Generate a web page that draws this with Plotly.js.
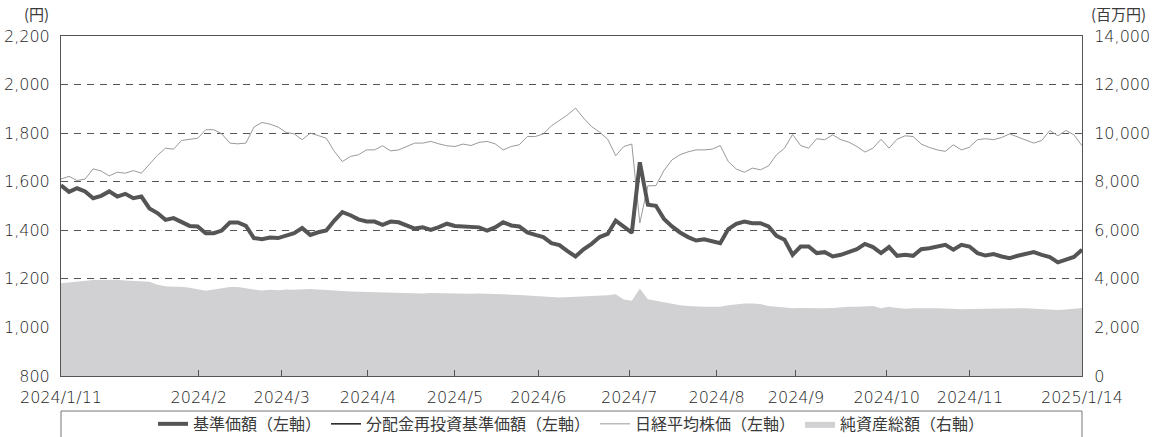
<!DOCTYPE html>
<html>
<head>
<meta charset="utf-8">
<script src="https://cdn.plot.ly/plotly-3.0.1.min.js"></script>
<style>
  html, body { margin: 0; padding: 0; background: #ffffff; }
  #chart { width: 1162px; height: 437px; }
  #chart text {
    text-spacing-trim: space-all !important;
    font-feature-settings: "chws" 0, "halt" 0, "palt" 0, "kern" 0 !important;
    font-kerning: none !important;
  }
</style>
</head>
<body>
<div id="chart"></div>
<script>
// ---- data (one point per sample step) ----
const tickPositions = [0, 17.13, 27.45, 38.18, 49.0, 59.37, 70.68, 81.55, 91.42, 102.7, 113.06, 127];
const tickLabels = ["2024/1/11", "2024/2", "2024/3", "2024/4", "2024/5", "2024/6",
                    "2024/7", "2024/8", "2024/9", "2024/10", "2024/11", "2025/1/14"];

// 基準価額 (円, left axis)
const nav = [
  1585, 1558, 1573, 1560, 1532, 1542, 1560, 1539, 1550, 1532,
  1539, 1490, 1471, 1443, 1450, 1436, 1418, 1416, 1388, 1388,
  1399, 1432, 1432, 1418, 1368, 1363, 1370, 1368, 1379, 1388,
  1409, 1381, 1392, 1399, 1440, 1475, 1462, 1445, 1436, 1436,
  1422, 1436, 1433, 1422, 1407, 1412, 1402, 1413, 1427, 1418,
  1416, 1416, 1412, 1399, 1412, 1433, 1420, 1416, 1391, 1381,
  1372, 1347, 1339, 1314, 1292, 1322, 1344, 1372, 1385, 1440,
  1413, 1390, 1680, 1505, 1501, 1447, 1416, 1391, 1372, 1358,
  1363, 1357, 1347, 1405, 1427, 1436, 1429, 1429, 1416, 1377,
  1361, 1299, 1333, 1333, 1306, 1310, 1292, 1299, 1310, 1322,
  1344, 1331, 1306, 1331, 1295, 1299, 1295, 1322, 1326, 1333,
  1340, 1320, 1340, 1333, 1306, 1296, 1302, 1292, 1285, 1295,
  1303, 1310, 1299, 1290, 1268, 1280, 1290, 1320
];

// 分配金再投資基準価額 (円, left axis) – coincides with 基準価額 (no distributions)
const reinvestNav = nav;

// 日経平均株価 (left axis, as plotted)
const nikkei = [
  1611, 1622, 1605, 1611, 1653, 1644, 1624, 1639, 1635, 1646,
  1635, 1670, 1709, 1738, 1734, 1770, 1773, 1779, 1814, 1814,
  1797, 1759, 1756, 1759, 1825, 1844, 1837, 1825, 1803, 1797,
  1773, 1800, 1790, 1779, 1725, 1683, 1704, 1711, 1731, 1731,
  1748, 1727, 1731, 1745, 1759, 1759, 1766, 1756, 1748, 1745,
  1755, 1749, 1762, 1766, 1756, 1731, 1745, 1752, 1786, 1786,
  1797, 1830, 1851, 1875, 1903, 1862, 1827, 1804, 1775, 1707,
  1745, 1755, 1430, 1583, 1584, 1646, 1690, 1711, 1723, 1731,
  1731, 1734, 1749, 1683, 1652, 1639, 1656, 1649, 1665, 1711,
  1738, 1795, 1749, 1738, 1777, 1773, 1793, 1773, 1763, 1745,
  1722, 1738, 1775, 1738, 1775, 1789, 1786, 1755, 1741, 1731,
  1725, 1752, 1731, 1742, 1773, 1777, 1773, 1782, 1797, 1784,
  1773, 1759, 1770, 1811, 1789, 1811, 1793, 1748
];

// 純資産総額 (百万円, right axis)
const netAssets = [
  3816, 3850, 3880, 3910, 3950, 3950, 3970, 3960, 3930, 3910,
  3900, 3880, 3760, 3700, 3680, 3680, 3630, 3560, 3510, 3560,
  3610, 3660, 3660, 3600, 3560, 3520, 3550, 3530, 3560, 3550,
  3570, 3580, 3560, 3530, 3520, 3500, 3480, 3470, 3460, 3450,
  3440, 3430, 3440, 3420, 3410, 3400, 3420, 3410, 3390, 3400,
  3380, 3390, 3400, 3380, 3370, 3360, 3350, 3340, 3310, 3290,
  3270, 3250, 3230, 3240, 3250, 3260, 3280, 3300, 3320, 3370,
  3150, 3100, 3600, 3160, 3100, 3030, 2950, 2910, 2880, 2855,
  2855, 2855, 2855, 2910, 2965, 2990, 2990, 2965, 2880, 2855,
  2830, 2786, 2800, 2786, 2786, 2786, 2800, 2830, 2855, 2855,
  2880, 2880, 2790, 2850, 2800, 2770, 2790, 2800, 2800, 2790,
  2780, 2760, 2750, 2760, 2770, 2780, 2790, 2790, 2780, 2790,
  2790, 2770, 2760, 2740, 2720, 2740, 2770, 2800
];

const seriesNames = ["基準価額（左軸）", "分配金再投資基準価額（左軸）", "日経平均株価（左軸）", "純資産総額（右軸）"];

// ---- chart ----
const xIdx = nav.map((_, i) => i);
const FONT = "Noto Sans CJK JP, Noto Sans, sans-serif";
const CJK = "Noto Sans CJK JP";
const NUM = { family: "DejaVu Sans, Noto Sans, sans-serif", size: 16, color: "#1e1e1e", weight: 300 };

const traces = [
  {
    x: xIdx, y: netAssets, yaxis: "y2", type: "scatter", mode: "lines",
    name: seriesNames[3], fill: "tozeroy", fillcolor: "#d1d1d3",
    line: { width: 0, color: "#d1d1d3" }, legendrank: 4, hoverinfo: "skip"
  },
  {
    x: xIdx, y: nikkei, type: "scatter", mode: "lines", name: seriesNames[2],
    line: { width: 1, color: "#9a9a9a" }, legendrank: 3, hoverinfo: "skip"
  },
  {
    x: xIdx, y: reinvestNav, type: "scatter", mode: "lines", name: seriesNames[1],
    line: { width: 1.5, color: "#1a1a1a" }, legendrank: 2, hoverinfo: "skip"
  },
  {
    x: xIdx, y: nav, type: "scatter", mode: "lines", name: seriesNames[0],
    line: { width: 4, color: "#555555" }, legendrank: 1, hoverinfo: "skip"
  }
];

const layout = {
  width: 1162, height: 437,
  margin: { l: 61, r: 80, t: 36, b: 61, pad: 0, autoexpand: false },
  paper_bgcolor: "#ffffff", plot_bgcolor: "#ffffff",
  font: { family: FONT, size: 15, color: "#3a3a3a" },
  showlegend: true,
  legend: {
    orientation: "h", x: 0.5, xanchor: "center", y: -0.141, yanchor: "middle",
    font: { family: CJK, size: 16, color: "#3a3a3a" },
    bgcolor: "rgba(0,0,0,0)", borderwidth: 0, traceorder: "normal"
  },
  xaxis: {
    range: [0, 127], tickmode: "array", tickvals: tickPositions, ticktext: tickLabels,
    ticks: "inside", ticklen: 6, tickcolor: "#555", tickwidth: 1,
    showline: true, linecolor: "#555", linewidth: 1, mirror: true,
    showgrid: false, zeroline: false, fixedrange: true, automargin: false,
    tickfont: NUM, ticklabelstandoff: 7
  },
  yaxis: {
    range: [800, 2200], tick0: 800, dtick: 200, tickformat: ",",
    showgrid: true, gridcolor: "#555", gridwidth: 1, griddash: "7px,6px",
    showline: true, linecolor: "#555", linewidth: 1, ticks: "",
    zeroline: false, fixedrange: true, automargin: false,
    tickfont: NUM, ticklabelstandoff: 7
  },
  yaxis2: {
    overlaying: "y", side: "right", range: [0, 14000], tick0: 0, dtick: 2000, tickformat: ",",
    showgrid: false, showline: true, linecolor: "#555", linewidth: 1, ticks: "",
    zeroline: false, fixedrange: true, automargin: false,
    tickfont: NUM, ticklabelstandoff: 8
  },
  shapes: [
    { type: "rect", xref: "paper", yref: "paper", x0: 0, x1: 1, y0: -0.103, y1: -0.3,
      line: { color: "#777", width: 1 }, fillcolor: "rgba(0,0,0,0)", layer: "below" }
  ],
  annotations: [
    { text: "(円)", xref: "paper", yref: "paper", x: 0, y: 1, xanchor: "right", yanchor: "bottom",
      xshift: -10, yshift: 10, showarrow: false, font: { family: FONT, size: 15, color: "#3a3a3a" } },
    { text: "(百万円)", xref: "paper", yref: "paper", x: 1, y: 1, xanchor: "left", yanchor: "bottom",
      xshift: 7, yshift: 10, showarrow: false, font: { family: FONT, size: 15, color: "#3a3a3a" } }
  ]
};

Plotly.newPlot("chart", traces, layout, { displayModeBar: false, staticPlot: true });
</script>
</body>
</html>
